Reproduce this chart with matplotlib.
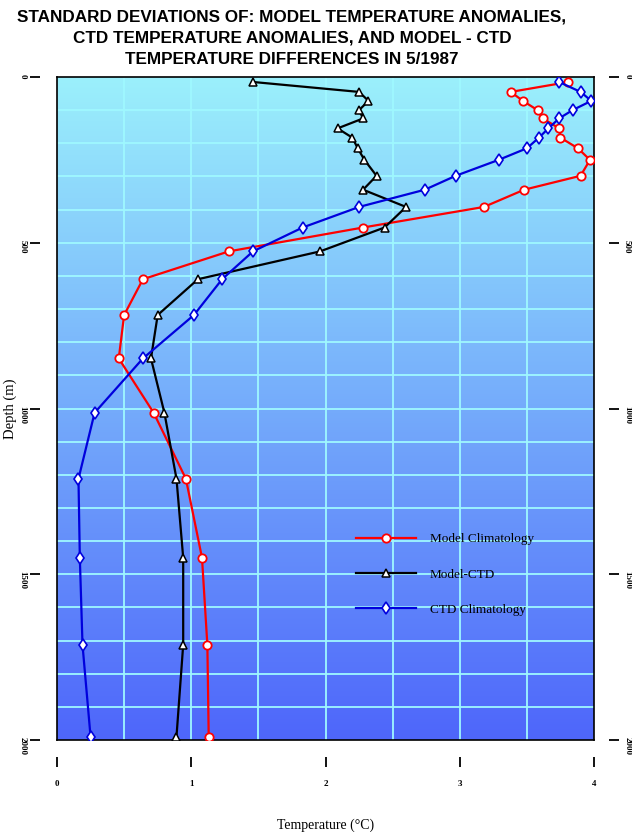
import numpy as np
import matplotlib
matplotlib.use('Agg')
import matplotlib.pyplot as plt

# depth levels (m) and standard deviations (deg C)
depth = [15, 45, 72, 100, 125, 155, 183, 215, 250, 298, 340, 392, 454, 526,
         610, 718, 849, 1013, 1212, 1450, 1713, 1990]
model_clim = [3.81, 3.38, 3.47, 3.58, 3.62, 3.74, 3.75, 3.88, 3.97, 3.90, 3.48,
              3.18, 2.28, 1.28, 0.64, 0.50, 0.46, 0.72, 0.96, 1.08, 1.12, 1.13]
model_ctd = [1.46, 2.25, 2.32, 2.25, 2.28, 2.09, 2.20, 2.24, 2.29, 2.38, 2.28,
             2.60, 2.44, 1.96, 1.05, 0.75, 0.70, 0.80, 0.89, 0.94, 0.94, 0.89]
ctd_clim = [3.74, 3.90, 3.98, 3.84, 3.74, 3.66, 3.59, 3.50, 3.29, 2.97, 2.74,
            2.25, 1.83, 1.46, 1.23, 1.02, 0.64, 0.28, 0.16, 0.17, 0.19, 0.25]
labels = ['Model Climatology', 'Model-CTD', 'CTD Climatology']
xticks = [0, 1, 2, 3, 4]
yticks = [0, 500, 1000, 1500, 2000]

W, H = 632, 832
fig = plt.figure(figsize=(W / 100, H / 100), dpi=100)
pos = [57 / W, (H - 740) / H, 537 / W, 663 / H]

# plot panel with gradient background
ax = fig.add_axes(pos)
top = np.array([155, 240, 252]) / 255
bot = np.array([78, 102, 250]) / 255
t = np.linspace(0, 1, 256)[:, None]
grad = (top[None, :] * (1 - t) + bot[None, :] * t)[:, None, :]
ax.imshow(grad, extent=[0, 4, 2000, 0], aspect='auto', zorder=0)
for gx in np.arange(0.5, 4, 0.5):
    ax.axvline(gx, color='#9ff8ff', lw=1.3, zorder=1)
for gy in np.arange(100, 2000, 100):
    ax.axhline(gy, color='#9ff8ff', lw=1.3, zorder=1)

ax.plot(model_clim, depth, '-o', color='#ff0000', lw=1.6, ms=6,
        mfc='white', mec='#ff0000', mew=1.3, label=labels[0], zorder=3)
ax.plot(model_ctd, depth, '-^', color='black', lw=1.6, ms=5.5,
        mfc='white', mec='black', mew=1.1, label=labels[1], zorder=3)
ax.plot(ctd_clim, depth, '-d', color='#0000dd', lw=1.6, ms=6,
        mfc='white', mec='#0000dd', mew=1.2, label=labels[2], zorder=3)
ax.set_xlim(0, 4)
ax.set_ylim(2000, 0)
ax.set_xticks([])
ax.set_yticks([])
for s in ax.spines.values():
    s.set_linewidth(1.2)

leg = ax.legend(loc='upper left', bbox_to_anchor=(0.535, 0.33), frameon=False,
                handlelength=4.5, handletextpad=1.1, labelspacing=1.75,
                prop={'family': 'Liberation Serif', 'size': 9.5})

# detached outer axes with ticks
ax2 = fig.add_axes(pos, frameon=False)
ax2.patch.set_visible(False)
ax2.set_xlim(0, 4)
ax2.set_ylim(2000, 0)
for side in ['left', 'right', 'bottom']:
    ax2.spines[side].set_visible(True)
    ax2.spines[side].set_linewidth(1.3)
ax2.spines['left'].set_position(('outward', 12))
ax2.spines['right'].set_position(('outward', 11))
ax2.spines['bottom'].set_position(('outward', 12))
ax2.spines['top'].set_visible(False)
ax2.set_xticks(xticks)
ax2.set_yticks(yticks)
ax2.tick_params(axis='y', left=True, right=True, labelleft=True, labelright=True,
                length=7, width=1.3, labelsize=6.5, labelrotation=-90, pad=3)
ax2.tick_params(axis='x', length=7, width=1.3, labelsize=6.5, pad=10)
for lab in ax2.get_xticklabels() + ax2.get_yticklabels():
    lab.set_family('Liberation Serif')
    lab.set_fontweight('bold')
ax2.set_xlabel('Temperature (°C)', family='Liberation Serif', fontsize=10, labelpad=22)
ax2.yaxis.set_label_coords(-0.075, 0.5)
ax2.set_ylabel('Depth (m)', family='Liberation Serif', fontsize=10.5)

fig.text(292 / W, 1 - 9 / H,
         'STANDARD DEVIATIONS OF: MODEL TEMPERATURE ANOMALIES,\n'
         'CTD TEMPERATURE ANOMALIES, AND MODEL - CTD\n'
         'TEMPERATURE DIFFERENCES IN 5/1987',
         ha='center', va='top', family='Liberation Sans', fontweight='bold',
         fontsize=12.3, linespacing=1.55)

fig.savefig('out.png', dpi=100)
